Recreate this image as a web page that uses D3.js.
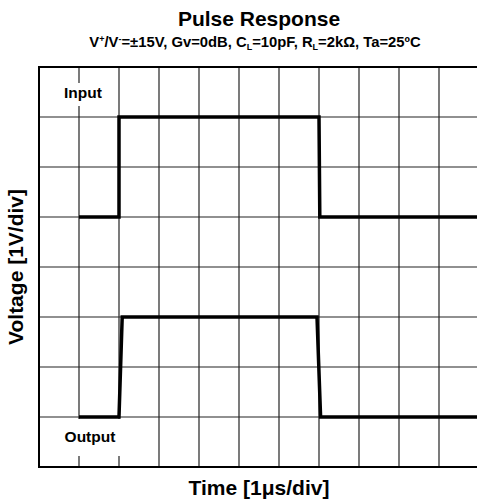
<!DOCTYPE html>
<html>
<head>
<meta charset="utf-8">
<script src="https://cdn.jsdelivr.net/npm/d3@7"></script>
<style>
  body { margin: 0; background: #fff; overflow: hidden; }
  text { font-family: "Liberation Sans", Arial, sans-serif; font-weight: bold; fill: #000; }
</style>
</head>
<body>
<div id="chart"></div>
<script>
// time in us (1us/div), voltage in V (1V/div) measured from the bottom of the screen
const inputTime = [1, 2, 2, 7, 7.02, 11];
const inputVolt = [5, 5, 7, 7, 5, 5];
const outputTime = [1, 2, 2.08, 6.95, 7.04, 11];
const outputVolt = [1, 1, 3, 3, 1, 1];
const xTicks = d3.range(0, 12);
const yTicks = d3.range(0, 9);

const width = 477, height = 501;
const margin = { left: 39, top: 67, plotW: 440, plotH: 400 };

const svg = d3.select("#chart").append("svg")
  .attr("width", width)
  .attr("height", height);

const x = d3.scaleLinear().domain([0, 11]).range([margin.left, margin.left + margin.plotW]);
const y = d3.scaleLinear().domain([0, 8]).range([margin.top + margin.plotH, margin.top]);

// grid
svg.append("g")
  .selectAll("line")
  .data(xTicks)
  .enter()
  .append("line")
  .attr("x1", (d) => x(d)).attr("x2", (d) => x(d))
  .attr("y1", y(0)).attr("y2", y(8))
  .style("stroke", "#222")
  .style("stroke-width", 1.2);

svg.append("g")
  .selectAll("line")
  .data(yTicks)
  .enter()
  .append("line")
  .attr("x1", x(0)).attr("x2", x(11))
  .attr("y1", (d) => y(d)).attr("y2", (d) => y(d))
  .style("stroke", "#222")
  .style("stroke-width", 1.2);

// labels sit on white patches that cut the grid
function traceLabel(txt, cx, cy, box) {
  svg.append("rect")
    .attr("x", box[0]).attr("y", box[1])
    .attr("width", box[2]).attr("height", box[3])
    .style("fill", "#fff");
  svg.append("text")
    .attr("x", cx).attr("y", cy)
    .attr("text-anchor", "middle")
    .attr("dominant-baseline", "central")
    .style("font-size", "15.5px")
    .text(txt);
}
traceLabel("Input", 83, 92, [62, 83, 43, 23]);
traceLabel("Output", 90, 436, [61, 419, 60, 37]);

svg.append("rect")
  .attr("x", x(0)).attr("y", y(8))
  .attr("width", x(11) - x(0)).attr("height", y(0) - y(8))
  .style("fill", "none")
  .style("stroke", "#000")
  .style("stroke-width", 2);

// traces
const line = d3.line()
  .x((d) => x(d[0]))
  .y((d) => y(d[1]));

[[inputTime, inputVolt], [outputTime, outputVolt]].forEach(([t, v]) => {
  svg.append("path")
    .datum(t.map((d, i) => [d, v[i]]))
    .attr("d", line)
    .style("fill", "none")
    .style("stroke", "#000")
    .style("stroke-width", 3.5)
    .style("stroke-linejoin", "miter");
});

// titles
const cx = x(5.5);
svg.append("text")
  .attr("x", cx).attr("y", 26)
  .attr("text-anchor", "middle")
  .style("font-size", "21px")
  .text("Pulse Response");

const sub = svg.append("text")
  .attr("x", cx - 4).attr("y", 47)
  .attr("text-anchor", "middle")
  .style("font-size", "14.8px");
sub.append("tspan").text("V");
sub.append("tspan").attr("dy", -5).style("font-size", "9px").text("+");
sub.append("tspan").attr("dy", 5).text("/V");
sub.append("tspan").attr("dy", -5).style("font-size", "9px").text("-");
sub.append("tspan").attr("dy", 5).text("=±15V, Gv=0dB, C");
sub.append("tspan").attr("dy", 3).style("font-size", "9px").text("L");
sub.append("tspan").attr("dy", -3).text("=10pF, R");
sub.append("tspan").attr("dy", 3).style("font-size", "9px").text("L");
sub.append("tspan").attr("dy", -3).text("=2kΩ, Ta=25ºC");

svg.append("text")
  .attr("x", cx).attr("y", 495)
  .attr("text-anchor", "middle")
  .style("font-size", "21px")
  .text("Time [1μs/div]");

svg.append("text")
  .attr("transform", "translate(23," + y(4) + ") rotate(-90)")
  .attr("text-anchor", "middle")
  .style("font-size", "21px")
  .text("Voltage [1V/div]");
</script>
</body>
</html>
